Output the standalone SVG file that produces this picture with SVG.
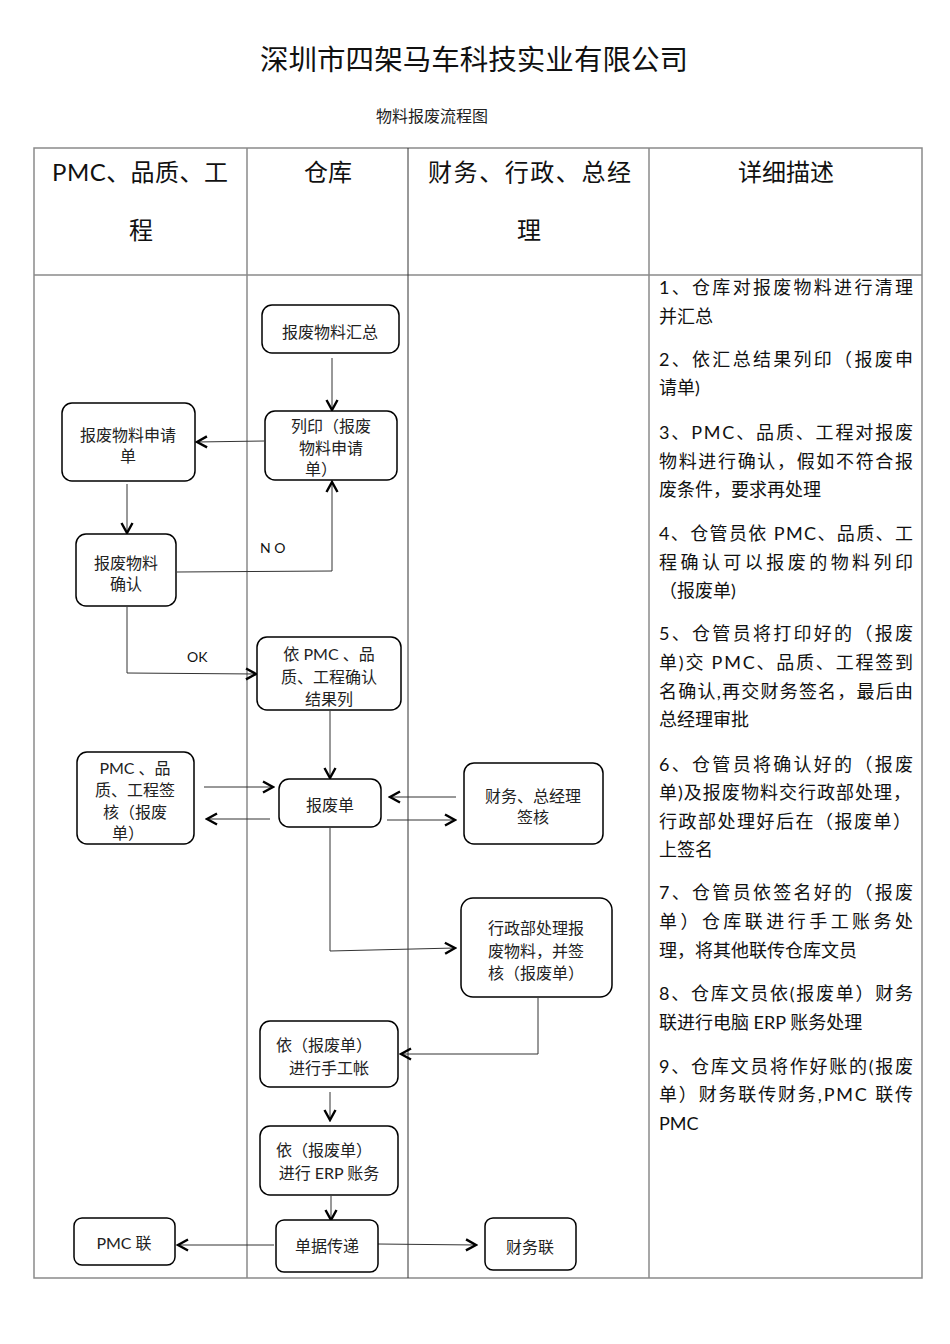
<svg xmlns="http://www.w3.org/2000/svg" width="950" height="1344" viewBox="0 0 950 1344">
<style>
.tbl{stroke:#8a8a8a;stroke-width:1.5;fill:none}
.box{fill:#fff;stroke:#000;stroke-width:1.5}
.nt{font-family:"Lato","Noto Sans CJK SC",sans-serif;font-size:16px;fill:#222;text-anchor:middle}
.hd{font-family:"Lato","Noto Sans CJK SC",sans-serif;font-size:24px;fill:#111}
.ds{font-family:"Lato","Noto Sans CJK SC",sans-serif;font-size:18px;fill:#111}
.lb{font-family:"Lato","Noto Sans CJK SC",sans-serif;font-size:14px;fill:#111}
.cn{fill:none;stroke:#333;stroke-width:1;marker-end:url(#ah)}
</style>
<defs>
<marker id="ah" viewBox="0 0 14 14" refX="12" refY="7" markerWidth="14" markerHeight="14" orient="auto" markerUnits="userSpaceOnUse">
<path d="M2,1.5 L12,7 L2,12.5" fill="none" stroke="#000" stroke-width="2.4"/>
</marker>
</defs>
<rect width="950" height="1344" fill="#fff"/>
<text x="474" y="70" font-family="Noto Sans CJK SC, sans-serif" font-size="28.5" fill="#111" text-anchor="middle" textLength="428" lengthAdjust="spacing">深圳市四架马车科技实业有限公司</text>
<text x="432" y="122" font-family="Noto Sans CJK SC, sans-serif" font-size="16" fill="#222" text-anchor="middle">物料报废流程图</text>

<g id="table">
<rect class="tbl" x="34" y="148" width="888" height="1130"/>
<line class="tbl" x1="34" y1="275" x2="922" y2="275"/>
<line class="tbl" x1="247" y1="148" x2="247" y2="1278"/>
<line x1="408" y1="148" x2="408" y2="1278" stroke="#333" stroke-width="1"/>
<line class="tbl" x1="649" y1="148" x2="649" y2="1278"/>
<text class="hd" x="52" y="181" textLength="176" lengthAdjust="spacing">PMC、品质、工</text>
<text class="hd" x="141" y="239" text-anchor="middle">程</text>
<text class="hd" x="328" y="181" text-anchor="middle">仓库</text>
<text class="hd" x="428" y="181" textLength="203" lengthAdjust="spacing">财务、行政、总经</text>
<text class="hd" x="529" y="239" text-anchor="middle">理</text>
<text class="hd" x="786" y="181" text-anchor="middle">详细描述</text>
</g>

<g id="description">
<text class="ds" x="659" y="294" textLength="254" lengthAdjust="spacing">1、仓库对报废物料进行清理</text>
<text class="ds" x="659" y="323">并汇总</text>
<text class="ds" x="659" y="366" textLength="254" lengthAdjust="spacing">2、依汇总结果列印（报废申</text>
<text class="ds" x="659" y="394">请单)</text>
<text class="ds" x="659" y="439" textLength="254" lengthAdjust="spacing">3、PMC、品质、工程对报废</text>
<text class="ds" x="659" y="468" textLength="254" lengthAdjust="spacing">物料进行确认，假如不符合报</text>
<text class="ds" x="659" y="496">废条件，要求再处理</text>
<text class="ds" x="659" y="540" textLength="254" lengthAdjust="spacing">4、仓管员依 PMC、品质、工</text>
<text class="ds" x="659" y="569" textLength="254" lengthAdjust="spacing">程确认可以报废的物料列印</text>
<text class="ds" x="659" y="597">（报废单)</text>
<text class="ds" x="659" y="640" textLength="254" lengthAdjust="spacing">5、仓管员将打印好的（报废</text>
<text class="ds" x="659" y="669" textLength="254" lengthAdjust="spacing">单)交 PMC、品质、工程签到</text>
<text class="ds" x="659" y="698" textLength="254" lengthAdjust="spacing">名确认,再交财务签名，最后由</text>
<text class="ds" x="659" y="726">总经理审批</text>
<text class="ds" x="659" y="771" textLength="254" lengthAdjust="spacing">6、仓管员将确认好的（报废</text>
<text class="ds" x="659" y="799" textLength="252" lengthAdjust="spacing">单)及报废物料交行政部处理，</text>
<text class="ds" x="659" y="828" textLength="252" lengthAdjust="spacing">行政部处理好后在（报废单）</text>
<text class="ds" x="659" y="856">上签名</text>
<text class="ds" x="659" y="899" textLength="254" lengthAdjust="spacing">7、仓管员依签名好的（报废</text>
<text class="ds" x="659" y="928" textLength="254" lengthAdjust="spacing">单）仓库联进行手工账务处</text>
<text class="ds" x="659" y="957">理，将其他联传仓库文员</text>
<text class="ds" x="659" y="1000" textLength="254" lengthAdjust="spacing">8、仓库文员依(报废单）财务</text>
<text class="ds" x="659" y="1029">联进行电脑 ERP 账务处理</text>
<text class="ds" x="659" y="1073" textLength="254" lengthAdjust="spacing">9、仓库文员将作好账的(报废</text>
<text class="ds" x="659" y="1101" textLength="254" lengthAdjust="spacing">单）财务联传财务,PMC 联传</text>
<text class="ds" x="659" y="1130">PMC</text>
</g>

<g id="connectors">
<line class="cn" x1="332" y1="358" x2="332" y2="410"/>
<line class="cn" x1="264" y1="441" x2="197" y2="442"/>
<line class="cn" x1="127" y1="484" x2="127" y2="533"/>
<polyline class="cn" points="177,572 332,571 332,482"/>
<polyline class="cn" points="127,607 127,673 256,674"/>
<line class="cn" x1="330" y1="711" x2="330" y2="778"/>
<line class="cn" x1="204" y1="787" x2="273" y2="787"/>
<line class="cn" x1="270" y1="819" x2="207" y2="819"/>
<line class="cn" x1="456" y1="797" x2="390" y2="797"/>
<line class="cn" x1="387" y1="820" x2="455" y2="820"/>
<polyline class="cn" points="330,828 330,951 455,948"/>
<polyline class="cn" points="538,998 538,1054 401,1054"/>
<line class="cn" x1="330" y1="1092" x2="330" y2="1120"/>
<line class="cn" x1="331" y1="1196" x2="331" y2="1220"/>
<line class="cn" x1="274" y1="1245" x2="178" y2="1245"/>
<line class="cn" x1="378" y1="1244" x2="476" y2="1245"/>
<text class="lb" x="260" y="553">N O</text>
<text class="lb" x="187" y="662">OK</text>
</g>

<g id="n1"><rect class="box" x="262" y="305" width="137" height="48" rx="10"/>
<text class="nt" x="330" y="338">报废物料汇总</text></g>
<g id="n2"><rect class="box" x="265" y="411" width="132" height="69" rx="10"/>
<text class="nt" x="331" y="432">列印（报废</text><text class="nt" x="331" y="454">物料申请</text><text class="nt" x="321" y="475">单）</text></g>
<g id="n3"><rect class="box" x="62" y="403" width="133" height="78" rx="10"/>
<text class="nt" x="128" y="441">报废物料申请</text><text class="nt" x="128" y="462">单</text></g>
<g id="n4"><rect class="box" x="76" y="534" width="100" height="72" rx="10"/>
<text class="nt" x="126" y="569">报废物料</text><text class="nt" x="126" y="590">确认</text></g>
<g id="n5"><rect class="box" x="257" y="637" width="144" height="73" rx="10"/>
<text class="nt" x="329" y="660">依 PMC 、品</text><text class="nt" x="329" y="683">质、工程确认</text><text class="nt" x="329" y="705">结果列</text></g>
<g id="n6"><rect class="box" x="77" y="752" width="117" height="92" rx="10"/>
<text class="nt" x="135" y="774">PMC 、品</text><text class="nt" x="135" y="796">质、工程签</text><text class="nt" x="135" y="818">核（报废</text><text class="nt" x="128" y="839">单）</text></g>
<g id="n7"><rect class="box" x="279" y="779" width="102" height="48" rx="10"/>
<text class="nt" x="330" y="811">报废单</text></g>
<g id="n8"><rect class="box" x="464" y="763" width="139" height="81" rx="10"/>
<text class="nt" x="533" y="802">财务、总经理</text><text class="nt" x="533" y="823">签核</text></g>
<g id="n9"><rect class="box" x="461" y="898" width="151" height="99" rx="12"/>
<text class="nt" x="536" y="934">行政部处理报</text><text class="nt" x="536" y="957">废物料，并签</text><text class="nt" x="536" y="979">核（报废单）</text></g>
<g id="n10"><rect class="box" x="260" y="1021" width="138" height="66" rx="10"/>
<text class="nt" x="324" y="1051">依（报废单）</text><text class="nt" x="329" y="1074">进行手工帐</text></g>
<g id="n11"><rect class="box" x="260" y="1126" width="138" height="69" rx="10"/>
<text class="nt" x="324" y="1156">依（报废单）</text><text class="nt" x="329" y="1179">进行 ERP 账务</text></g>
<g id="n12"><rect class="box" x="276" y="1220" width="102" height="52" rx="8"/>
<text class="nt" x="327" y="1252">单据传递</text></g>
<g id="n13"><rect class="box" x="74" y="1218" width="101" height="47" rx="8"/>
<text class="nt" x="124" y="1249">PMC 联</text></g>
<g id="n14"><rect class="box" x="485" y="1218" width="91" height="52" rx="8"/>
<text class="nt" x="530" y="1253">财务联</text></g>
</svg>
